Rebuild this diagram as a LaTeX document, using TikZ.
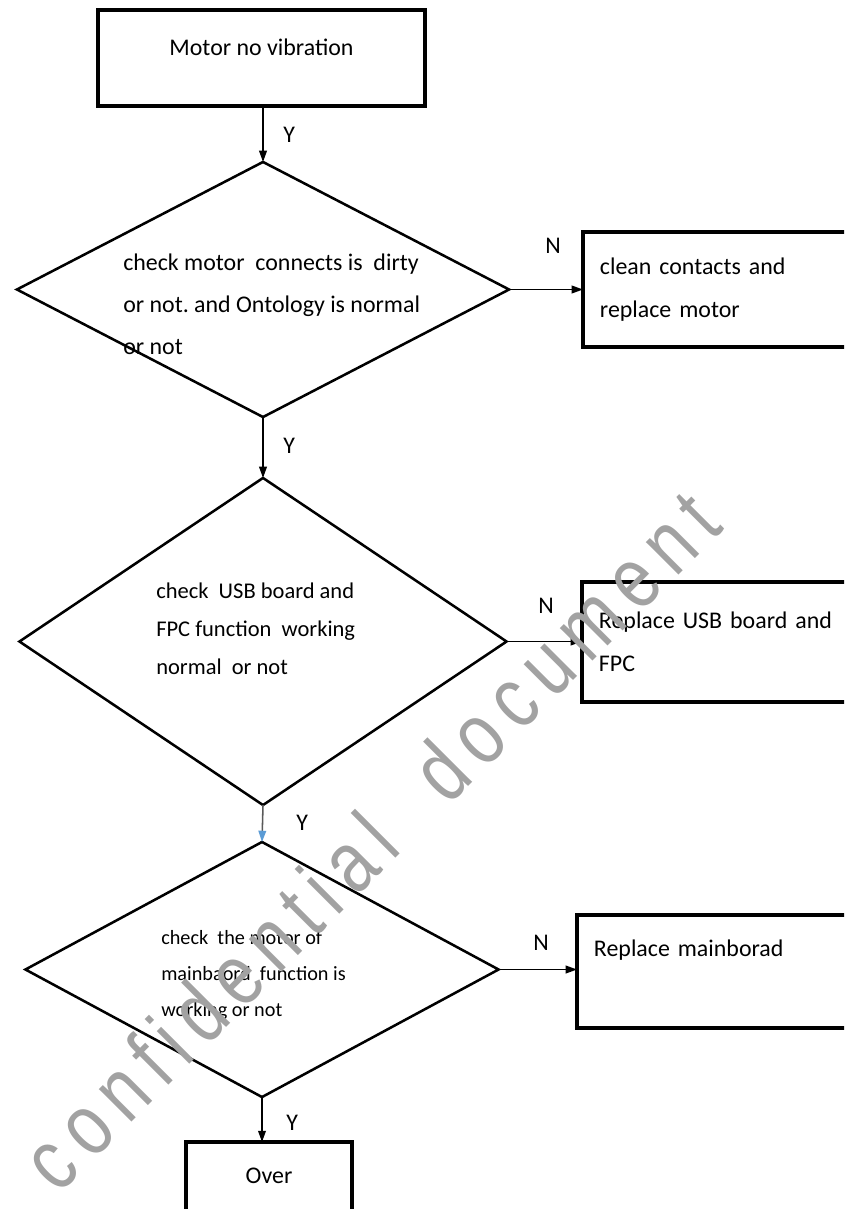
\documentclass[tikz,border=0pt]{standalone}
\usepackage{fontspec}
\setmainfont{Carlito}
\newfontfamily\markfont[FakeStretch=0.8,LetterSpace=14]{Liberation Sans}
\usetikzlibrary{shapes.geometric,arrows.meta,positioning}
\frenchspacing
\begin{document}
\begin{tikzpicture}[x=0.025cm,y=-0.025cm,
  stepbox/.style={draw,rectangle,line width=2.4pt,inner xsep=0.425cm,
   inner ysep=0pt,outer sep=0pt,font=\fontsize{17pt}{30.5pt}\selectfont},
  sidebox/.style={stepbox,text width=7.15cm,align=left},
  decision/.style={draw,diamond,line width=1.8pt,inner sep=0pt,outer sep=0pt},
  dtext/.style={anchor=west,align=left,inner sep=0pt},
  yn/.style={anchor=base west,inner sep=0pt,font=\fontsize{17pt}{20pt}\selectfont},
  flow/.style={-{Triangle[length=8pt,width=5.5pt]},line width=1.1pt}]
 \definecolor{wmgray}{RGB}{162,162,162}
 \definecolor{arrblue}{RGB}{91,155,213}
 \useasboundingbox (0,0) rectangle (844,1209);
 \clip (0,0) rectangle (844,1209);
 \node[stepbox,minimum width=8.175cm,minimum height=2.4cm,
  text height=13pt,text depth=17pt] (start) at (261.5,58) {Motor no vibration};
 \node[decision,minimum width=12.3cm,minimum height=6.375cm] (d1) at (263,289.5) {};
 \node[dtext,font=\fontsize{17pt}{30pt}\selectfont] (d1txt) at (123,304)
  {check motor\ \ connects is\ \ dirty\\or not. and Ontology is normal\\or not};
 \node[sidebox,minimum height=2.875cm] (b1) at (743,289.5)
  {clean contacts and\\replace motor};
 \node[decision,minimum width=12.175cm,minimum height=8.175cm] (d2) at (263,641.5) {};
 \node[dtext,font=\fontsize{16pt}{27pt}\selectfont] (d2txt) at (156,629)
  {check\ \ USB board and\\FPC function\ \ working\\normal\ \ or not};
 \node[sidebox,minimum height=3cm] (b2) at (742,642)
  {Replace USB board and\\FPC};
 \node[decision,minimum width=11.825cm,minimum height=6.375cm] (d3) at (262,969.5) {};
 \node[dtext,font=\fontsize{14.4pt}{25.6pt}\selectfont] (d3txt) at (161,975)
  {check\ \ the motor of\\mainbaord\ \ function is\\working or not};
 \node[sidebox,minimum height=2.825cm,text height=13pt,text depth=35pt] (b3) at (737,971.5)
  {Replace mainborad};
 \node[stepbox,minimum width=4.15cm,minimum height=2.45cm,
  text height=12pt,text depth=23pt] (over) at (269,1191) {Over};
 \draw[flow] (start.south -| d1.north) -- (d1.north);
 \draw[flow] (d1.south) -- (d2.north);
 \draw[flow,draw=black!65,-{Triangle[length=8pt,width=5.5pt,color=arrblue]}] (d2.south) -- (d3.north);
 \draw[flow] (d3.south) -- (d3.south |- over.north);
 \draw[flow] (d1.east) -- (d1.east -| b1.west);
 \draw[flow] (d2.east) -- (d2.east -| b2.west);
 \draw[flow] (d3.east) -- (d3.east -| b3.west);
 \foreach \nm/\tx/\xp/\yp in {
   y1/Y/283/142, y2/Y/283/453, y3/Y/296/830, y4/Y/286/1130,
   n1/N/545/253, n2/N/538/613, n3/N/533/950
 } {
   \node[yn] (\nm) at (\xp,\yp) {\tx};
 }
 \node[rotate=45,text=wmgray,inner sep=0pt,
  font=\markfont\fontsize{62pt}{62pt}\selectfont] (wm) at (370,840)
  {confidential\ \ document};
\end{tikzpicture}
\end{document}
